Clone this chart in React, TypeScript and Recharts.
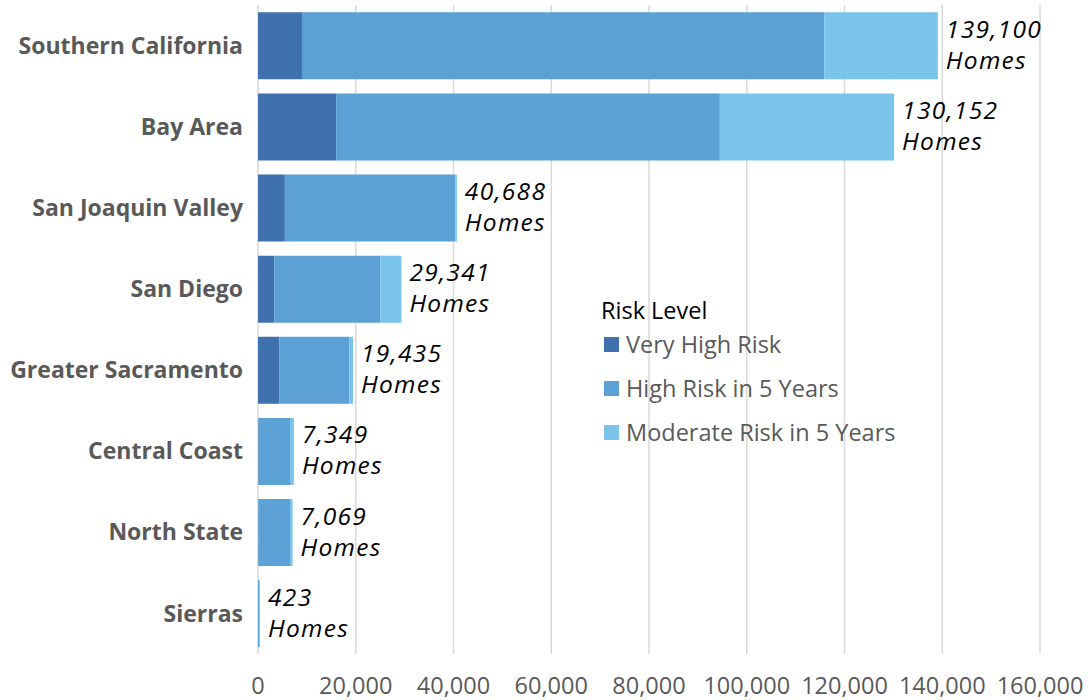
import React from "react";
import { BarChart, Bar, XAxis, YAxis, CartesianGrid, Legend, LabelList } from "recharts";

const regions = [
  "Southern California",
  "Bay Area",
  "San Joaquin Valley",
  "San Diego",
  "Greater Sacramento",
  "Central Coast",
  "North State",
  "Sierras",
];
const veryHigh = [9000, 16000, 5500, 3350, 4400, 100, 50, 0];
const highRisk5 = [106900, 78500, 34900, 21700, 14300, 6450, 6500, 300];
const moderate5 = [23200, 35652, 288, 4291, 735, 799, 519, 123];
const totalLabels = ["139,100", "130,152", "40,688", "29,341", "19,435", "7,349", "7,069", "423"];
const xTicks = [0, 20000, 40000, 60000, 80000, 100000, 120000, 140000, 160000];

const seriesNames = ["Very High Risk", "High Risk in 5 Years", "Moderate Risk in 5 Years"];
const colors = ["#3F71AE", "#5BA1D5", "#7AC3EB"];

const data = regions.map((r, i) => ({
  region: r,
  vh: veryHigh[i],
  hr: highRisk5[i],
  mr: moderate5[i],
  label: totalLabels[i],
}));

const fontFamily = "'Open Sans', Lato, sans-serif";

const TotalLabel = (props: any) => {
  const { x, y, width, height, value } = props;
  const tx = x + width + 8;
  const cy = y + height / 2;
  return (
    <text
      x={tx}
      y={cy}
      fill="#000"
      fontSize={24.5}
      fontStyle="italic"
      fontFamily={fontFamily}
      letterSpacing={1.3}
    >
      <tspan x={tx} y={cy - 8}>{value}</tspan>
      <tspan x={tx} y={cy + 23}>Homes</tspan>
    </text>
  );
};

const LegendContent = () => (
  <div style={{ fontFamily, fontSize: 23.5, lineHeight: "28px" }}>
    <div style={{ color: "#000", marginBottom: 8 }}>Risk Level</div>
    {seriesNames.map((n, i) => (
      <div key={n} style={{ display: "flex", alignItems: "center", color: "#595959", height: 44, marginTop: i === 0 ? -10 : 0, whiteSpace: "nowrap" }}>
        <span style={{ width: 15, height: 15, background: colors[i], display: "inline-block", marginRight: 7, marginLeft: 3, flex: "none" }} />
        <span>{n}</span>
      </div>
    ))}
  </div>
);

export default function App() {
  return (
    <div style={{ position: "absolute", left: 0, top: 0, width: 1089, height: 700, background: "#fff" }}>
      <BarChart
        width={1089}
        height={700}
        data={data}
        layout="vertical"
        margin={{ top: 5, right: 49, bottom: 0, left: 0 }}
        barCategoryGap="9%"
      >
        <CartesianGrid horizontal={false} stroke="#d9d9d9" strokeWidth={1.5} />
        <XAxis
          type="number"
          domain={[0, 160000]}
          ticks={xTicks}
          interval={0}
          axisLine={false}
          tickLine={false}
          height={46}
          tickMargin={17}
          tickFormatter={(v: number) => v.toLocaleString("en-US")}
          tick={{ fill: "#595959", fontSize: 23.5, fontFamily }}
        />
        <YAxis
          type="category"
          dataKey="region"
          width={258}
          axisLine={false}
          tickLine={false}
          tickSize={0}
          tickMargin={15}
          tick={{ fill: "#595959", fontSize: 23, fontWeight: 700, fontFamily }}
        />
        <Legend
          layout="vertical"
          align="center"
          verticalAlign="middle"
          content={<LegendContent />}
          wrapperStyle={{ position: "absolute", left: 601, top: 296, width: 340 }}
        />
        <Bar dataKey="vh" name={seriesNames[0]} stackId="a" fill={colors[0]} isAnimationActive={false} />
        <Bar dataKey="hr" name={seriesNames[1]} stackId="a" fill={colors[1]} isAnimationActive={false} />
        <Bar dataKey="mr" name={seriesNames[2]} stackId="a" fill={colors[2]} isAnimationActive={false}>
          <LabelList dataKey="label" content={<TotalLabel />} />
        </Bar>
      </BarChart>
    </div>
  );
}
